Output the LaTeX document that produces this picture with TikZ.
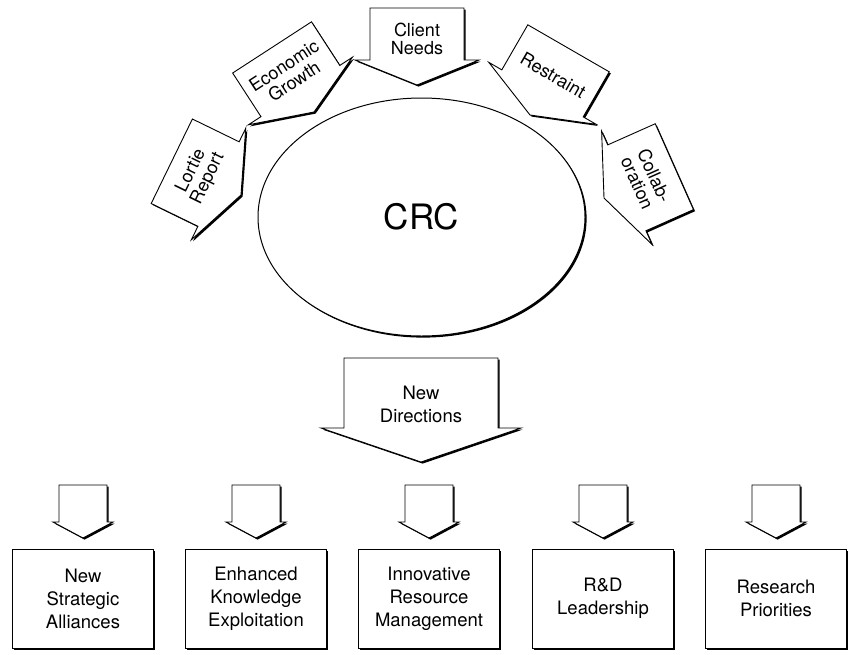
\documentclass[tikz,border=0pt]{standalone}
\usepackage{fontspec}
\setmainfont{TeX Gyre Heros}
\usepackage{tikz}
\usetikzlibrary{shapes.geometric,shadows}

\tikzset{
  outline/.style={draw, fill=white, line width=0.9pt, line join=miter},
  castshadow/.style={drop shadow={shadow xshift=1.6pt, shadow yshift=-1.6pt, fill=black, opacity=1}},
  arrowtext/.style={align=center, inner sep=0pt, font=\fontsize{18}{18.5}\selectfont},
  boxtext/.style={align=center, inner sep=0pt, font=\fontsize{18.5}{23}\selectfont},
  hub/.style={ellipse, outline, line width=1pt, castshadow, minimum width=327pt, minimum height=238pt, font=\fontsize{35}{40}\selectfont},
  taskbox/.style={rectangle, outline, castshadow, minimum width=141pt, minimum height=99pt, align=center, font=\fontsize{18.5}{23}\selectfont},
}

% one of the forces pressing on the centre: name, tip, angle, text
\newcommand{\inflow}[4]{%
  \begin{scope}[shift={#2}]
    \fill[shift={(1.6,-1.6)}, rotate=#3] (0,0) -- (62,25) -- (47,25) -- (47,77) -- (-47,77) -- (-47,25) -- (-62,25) -- cycle;
    \path[outline, rotate=#3] (0,0) -- (62,25) -- (47,25) -- (47,77) -- (-47,77) -- (-47,25) -- (-62,25) -- cycle;
    \node[arrowtext, rotate=#3] (#1) at (90+#3:46) {#4};
  \end{scope}}

\begin{document}
\begin{tikzpicture}[x=1pt,y=1pt]
  \useasboundingbox (0,0) rectangle (848,-654);

  % the centre
  \node[hub] (crc) at (421.5,-217) {CRC};

  % forces
  \inflow{lortie}{(241,-195)}{64}{Lortie\\Report}
  \inflow{econ}{(314,-112)}{33}{Economic\\Growth}
  \inflow{client}{(417,-85)}{0}{Client\\Needs}
  \inflow{restraint}{(530,-115)}{-30}{Restraint}
  \inflow{collab}{(604,-198)}{-66}{Collab-\\oration}

  % new directions
  \begin{scope}[shift={(421,-462)}]
    \fill[shift={(1.6,-1.6)}] (0,0) -- (100,34) -- (77,34) -- (77,104) -- (-77,104) -- (-77,34) -- (-100,34) -- cycle;
    \path[outline] (0,0) -- (100,34) -- (77,34) -- (77,104) -- (-77,104) -- (-77,34) -- (-100,34) -- cycle;
    \node[boxtext] (newdir) at (0,58) {New\\Directions};
  \end{scope}

  % outcomes
  \foreach \x/\name/\txt in {83/alliances/{New\\Strategic\\Alliances},
                             256/knowledge/{Enhanced\\Knowledge\\Exploitation},
                             429/resource/{Innovative\\Resource\\Management},
                             603/leadership/{R\&D\\Leadership},
                             776/priorities/{Research\\Priorities}}{
    \begin{scope}[shift={(\x,-538)}]
      \fill[shift={(1.6,-1.6)}] (0,0) -- (30,16) -- (24,16) -- (24,53) -- (-24,53) -- (-24,16) -- (-30,16) -- cycle;
      \path[outline] (0,0) -- (30,16) -- (24,16) -- (24,53) -- (-24,53) -- (-24,16) -- (-30,16) -- cycle;
    \end{scope}
    \node[taskbox] (\name) at (\x,-598.5) {\txt};
  }
\end{tikzpicture}
\end{document}
